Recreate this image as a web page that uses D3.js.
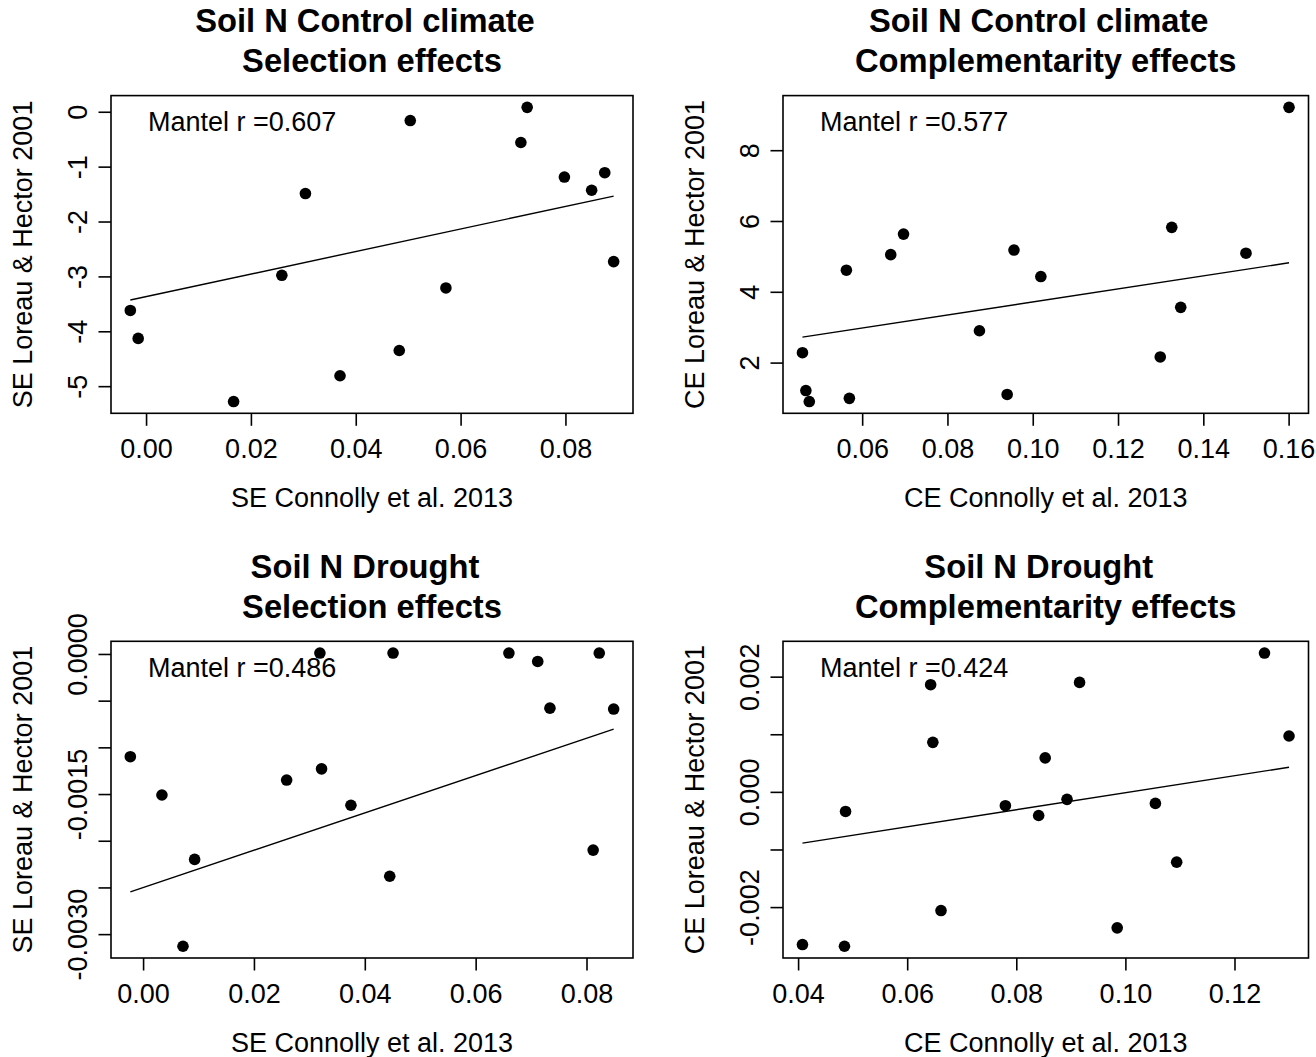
<!DOCTYPE html>
<html>
<head>
<meta charset="utf-8">
<script src="https://cdn.jsdelivr.net/npm/d3@7"></script>
<style>
  body { margin: 0; background: #fff; }
  svg { display: block; }
  text { font-family: "Liberation Sans", Arial, Helvetica, sans-serif; fill: #000; }
</style>
</head>
<body>
<svg id="chart" width="1316" height="1057"></svg>
<script>
// ---------- DATA ----------
// Panel 1: Soil N Control climate, Selection effects
const seControlX = [-0.0030, -0.0015, 0.0167, 0.0259, 0.0304, 0.0370, 0.0483, 0.0504, 0.0572, 0.0715, 0.0727, 0.0798, 0.0850, 0.0875, 0.0892];
const seControlY = [-3.62, -4.13, -5.28, -2.98, -1.49, -4.81, -4.35, -0.16, -3.21, -0.56, 0.08, -1.19, -1.43, -1.11, -2.73];
const seControlFit = [-3.43, -1.537];
const seControlXTicks = [0.00, 0.02, 0.04, 0.06, 0.08];
const seControlXLabels = ["0.00", "0.02", "0.04", "0.06", "0.08"];
const seControlYTicks = [-5, -4, -3, -2, -1, 0];
const seControlYLabels = ["-5", "-4", "-3", "-2", "-1", "0"];

// Panel 2: Soil N Control climate, Complementarity effects
const ceControlX = [0.0460, 0.0468, 0.0476, 0.0563, 0.0570, 0.0667, 0.0697, 0.0875, 0.0940, 0.0956, 0.1019, 0.1299, 0.1326, 0.1347, 0.1500, 0.1601];
const ceControlY = [2.28, 1.21, 0.90, 4.61, 0.99, 5.05, 5.63, 2.90, 1.10, 5.18, 4.43, 2.16, 5.82, 3.56, 5.09, 9.21];
const ceControlFit = [2.72, 4.82];
const ceControlXTicks = [0.06, 0.08, 0.10, 0.12, 0.14, 0.16];
const ceControlXLabels = ["0.06", "0.08", "0.10", "0.12", "0.14", "0.16"];
const ceControlYTicks = [2, 4, 6, 8];
const ceControlYLabels = ["2", "4", "6", "8"];

// Panel 3: Soil N Drought, Selection effects
const seDroughtX = [-0.0023, 0.0034, 0.0072, 0.0093, 0.0259, 0.0319, 0.0322, 0.0375, 0.0445, 0.0451, 0.0660, 0.0712, 0.0734, 0.0812, 0.0823, 0.0849];
const seDroughtY = [-0.00110, -0.00151, -0.00313, -0.00220, -0.00135, 0.00001, -0.00123, -0.00162, -0.00238, 0.00001, 0.00001, -0.00008, -0.00058, -0.00210, 0.00001, -0.00059];
const seDroughtFit = [-0.002548, -0.000805];
const seDroughtXTicks = [0.00, 0.02, 0.04, 0.06, 0.08];
const seDroughtXLabels = ["0.00", "0.02", "0.04", "0.06", "0.08"];
const seDroughtYTicks = [-0.0030, -0.0025, -0.0020, -0.0015, -0.0010, -0.0005, 0.0000];
const seDroughtYLabels = ["-0.0030", "", "", "-0.0015", "", "", "0.0000"];

// Panel 4: Soil N Drought, Complementarity effects
const ceDroughtX = [0.0408, 0.0485, 0.0487, 0.0643, 0.0647, 0.0662, 0.0780, 0.0841, 0.0853, 0.0893, 0.0916, 0.0985, 0.1055, 0.1094, 0.1255, 0.1300];
const ceDroughtY = [-0.00265, -0.00268, -0.00034, 0.00186, 0.00086, -0.00206, -0.00024, -0.00041, 0.00059, -0.00013, 0.00190, -0.00236, -0.00020, -0.00122, 0.00241, 0.00097];
const ceDroughtFit = [-0.00089, 0.000428];
const ceDroughtXTicks = [0.04, 0.06, 0.08, 0.10, 0.12];
const ceDroughtXLabels = ["0.04", "0.06", "0.08", "0.10", "0.12"];
const ceDroughtYTicks = [-0.002, -0.001, 0.000, 0.001, 0.002];
const ceDroughtYLabels = ["-0.002", "", "0.000", "", "0.002"];

const titleLine1 = ["Soil N Control climate", "Soil N Control climate", "Soil N Drought", "Soil N Drought"];
const titleLine2 = ["Selection effects", "Complementarity effects", "Selection effects", "Complementarity effects"];
const xTitles = ["SE Connolly et al. 2013", "CE Connolly et al. 2013", "SE Connolly et al. 2013", "CE Connolly et al. 2013"];
const yTitles = ["SE Loreau & Hector 2001", "CE Loreau & Hector 2001", "SE Loreau & Hector 2001", "CE Loreau & Hector 2001"];
const mantelR = ["0.607", "0.577", "0.486", "0.424"];

// ---------- LAYOUT ----------
const cols = [[111, 633], [783, 1308.5]];
const rows = [[95.6, 413.3], [641.3, 958]];

const panels = [
  { x: seControlX, y: seControlY, fit: seControlFit, xt: seControlXTicks, xl: seControlXLabels, yt: seControlYTicks, yl: seControlYLabels, c: 0, r: 0 },
  { x: ceControlX, y: ceControlY, fit: ceControlFit, xt: ceControlXTicks, xl: ceControlXLabels, yt: ceControlYTicks, yl: ceControlYLabels, c: 1, r: 0 },
  { x: seDroughtX, y: seDroughtY, fit: seDroughtFit, xt: seDroughtXTicks, xl: seDroughtXLabels, yt: seDroughtYTicks, yl: seDroughtYLabels, c: 0, r: 1 },
  { x: ceDroughtX, y: ceDroughtY, fit: ceDroughtFit, xt: ceDroughtXTicks, xl: ceDroughtXLabels, yt: ceDroughtYTicks, yl: ceDroughtYLabels, c: 1, r: 1 }
];

const svg = d3.select("#chart");
svg.append("rect").attr("width", 1316).attr("height", 1057).attr("fill", "#fff");

const FS = 27;       // axis / annotation font size
const TFS = 32.7;    // title font size
const LW = 1.6;

function padded(ext) {
  const d = ext[1] - ext[0];
  return [ext[0] - 0.04 * d, ext[1] + 0.04 * d];
}

panels.forEach((p, i) => {
  const [left, right] = cols[p.c];
  const [top, bottom] = rows[p.r];
  const xs = d3.scaleLinear().domain(padded(d3.extent(p.x))).range([left, right]);
  const ys = d3.scaleLinear().domain(padded(d3.extent(p.y))).range([bottom, top]);
  const g = svg.append("g");
  const cx = (left + right) / 2;
  const cy = (top + bottom) / 2;

  // titles
  g.append("text").attr("x", cx - 7).attr("y", top - 63.5)
    .attr("text-anchor", "middle").attr("font-weight", "bold").attr("font-size", TFS)
    .text(titleLine1[i]);
  g.append("text").attr("x", cx).attr("y", top - 23.5)
    .attr("text-anchor", "middle").attr("font-weight", "bold").attr("font-size", TFS)
    .text(titleLine2[i]);

  // x axis
  const xAxis = d3.axisBottom(xs).tickValues(p.xt)
    .tickFormat((d, k) => p.xl[k]).tickSizeInner(12.5).tickSizeOuter(0).tickPadding(13.3);
  const gx = g.append("g").attr("transform", `translate(0,${bottom})`).call(xAxis);
  gx.select(".domain").remove();
  gx.selectAll("line").attr("stroke-width", LW);
  gx.selectAll("text").attr("font-size", FS).attr("fill", "#000")
    .style("font-family", '"Liberation Sans", Arial, Helvetica, sans-serif');
  gx.attr("font-size", null).attr("font-family", null);

  // y axis
  const yAxis = d3.axisLeft(ys).tickValues(p.yt)
    .tickFormat((d, k) => p.yl[k]).tickSizeInner(12.5).tickSizeOuter(0);
  const gy = g.append("g").attr("transform", `translate(${left},0)`).call(yAxis);
  gy.select(".domain").remove();
  gy.selectAll("line").attr("stroke-width", LW);
  gy.selectAll("text").attr("font-size", FS).attr("fill", "#000")
    .style("font-family", '"Liberation Sans", Arial, Helvetica, sans-serif')
    .attr("x", null).attr("dy", null)
    .attr("transform", "translate(-24.5,0) rotate(-90)")
    .attr("text-anchor", "middle");
  gy.attr("font-size", null).attr("font-family", null);

  // axis titles
  g.append("text").attr("x", cx).attr("y", bottom + 94)
    .attr("text-anchor", "middle").attr("font-size", FS).text(xTitles[i]);
  g.append("text").attr("transform", `translate(${left - 79},${cy}) rotate(-90)`)
    .attr("text-anchor", "middle").attr("font-size", FS).text(yTitles[i]);

  // regression line
  const xe = d3.extent(p.x);
  const line = d3.line().x(d => xs(d[0])).y(d => ys(d[1]));
  g.append("path").datum([[xe[0], p.fit[0]], [xe[1], p.fit[1]]])
    .attr("d", line).attr("fill", "none").attr("stroke", "#000").attr("stroke-width", 1.4);

  // points
  g.selectAll("circle.pt").data(p.x.map((v, k) => [v, p.y[k]])).enter()
    .append("circle").attr("class", "pt")
    .attr("cx", d => xs(d[0])).attr("cy", d => ys(d[1])).attr("r", 5.8).attr("fill", "#000");

  // box
  g.append("rect").attr("x", left).attr("y", top).attr("width", right - left).attr("height", bottom - top)
    .attr("fill", "none").attr("stroke", "#000").attr("stroke-width", LW);

  // Mantel annotation
  g.append("text").attr("x", left + 37).attr("y", top + 35.5)
    .attr("font-size", FS).text("Mantel r =" + mantelR[i]);
});
</script>
</body>
</html>
